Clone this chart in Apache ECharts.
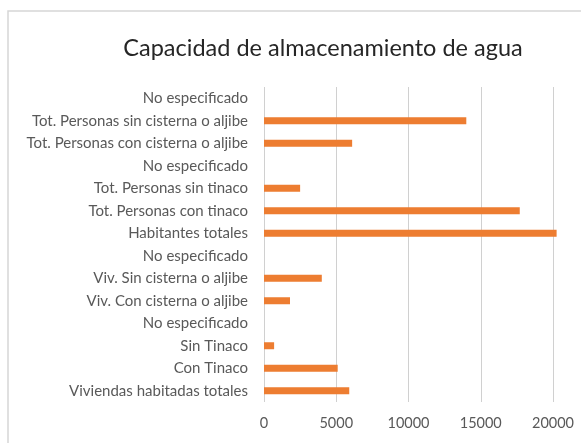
<!DOCTYPE html>
<html>
<head>
<meta charset="utf-8">
<script src="https://cdn.jsdelivr.net/npm/echarts@6/dist/echarts.min.js"></script>
<style>
  html, body { margin: 0; padding: 0; background: #fff; }
  #chart { width: 581px; height: 443px; }
</style>
</head>
<body>
<div id="chart"></div>
<script>
// categorias de abajo hacia arriba (orden del eje de ECharts)
const categories = [
  'Viviendas habitadas totales',
  'Con Tinaco',
  'Sin Tinaco',
  'No especificado',
  'Viv. Con cisterna o aljibe',
  'Viv. Sin cisterna o aljibe',
  'No especificado',
  'Habitantes totales',
  'Tot. Personas con tinaco',
  'Tot. Personas sin tinaco',
  'No especificado',
  'Tot. Personas con cisterna o aljibe',
  'Tot. Personas sin cisterna o aljibe',
  'No especificado'
]
const values = [5900, 5100, 700, 0, 1800, 4000, 0, 20250, 17700, 2500, 0, 6100, 14000, 0]
const xTicks = [0, 5000, 10000, 15000, 20000]

const chart = echarts.init(document.getElementById('chart'))
chart.setOption({
  animation: false,
  title: {
    text: 'Capacidad de almacenamiento de agua',
    left: 318,
    top: 31,
    textAlign: 'center',
    textStyle: { fontFamily: 'Lato', fontSize: 23.5, fontWeight: 'normal', color: '#262626' }
  },
  graphic: [{
    type: 'rect',
    shape: { x: 8, y: 11, width: 600, height: 460 },
    style: { fill: 'none', stroke: '#d6d6d6', lineWidth: 1.5 },
    silent: true
  }],
  grid: { left: 264, right: 28, top: 87, bottom: 41 },
  xAxis: {
    type: 'value',
    min: xTicks[0],
    max: xTicks[xTicks.length - 1],
    interval: 5000,
    axisLine: { show: false },
    axisTick: { show: false },
    axisLabel: { fontFamily: 'Lato', fontSize: 14.5, color: '#595959', margin: 14, formatter: v => String(v) },
    splitLine: { lineStyle: { color: '#d0d0d0', width: 1 } }
  },
  yAxis: {
    type: 'category',
    data: categories,
    axisLine: { show: false },
    axisTick: { show: false },
    axisLabel: { fontFamily: 'Lato', fontSize: 15, color: '#595959', margin: 16, interval: 0 }
  },
  series: [{
    type: 'bar',
    data: values,
    barWidth: 7,
    clip: false,
    itemStyle: { color: '#ED7D31' }
  }]
})
</script>
</body>
</html>
